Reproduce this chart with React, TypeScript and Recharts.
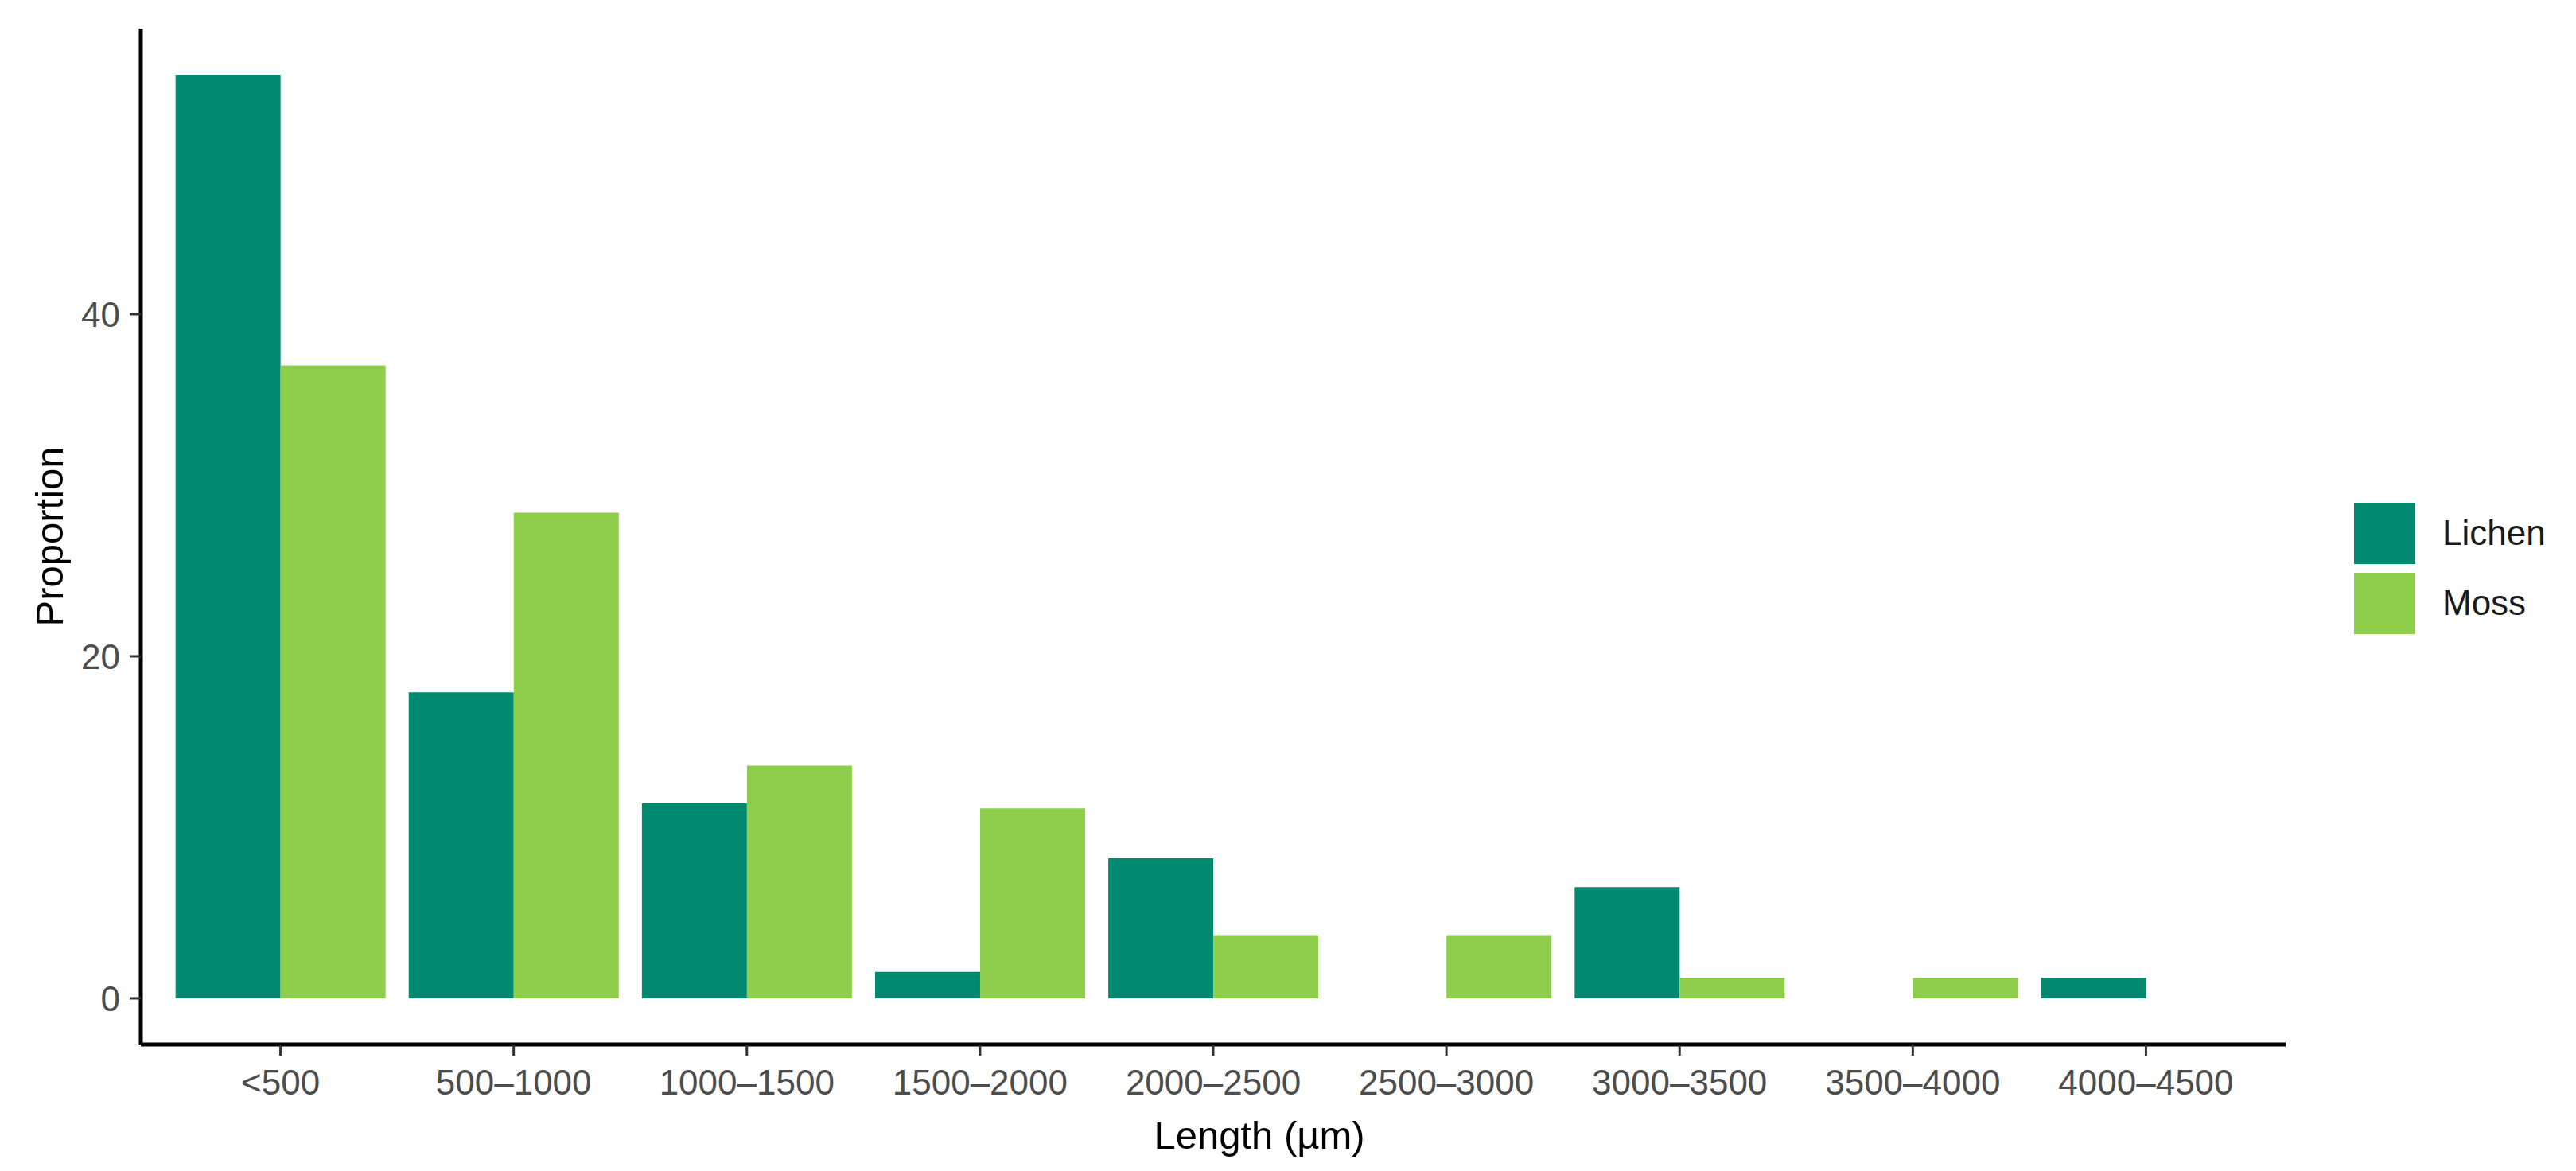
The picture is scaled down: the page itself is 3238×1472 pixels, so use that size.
import React from 'react';
import { BarChart, Bar, XAxis, YAxis, Legend } from 'recharts';

const categories = ['<500', '500\u20131000', '1000\u20131500', '1500\u20132000', '2000\u20132500', '2500\u20133000', '3000\u20133500', '3500\u20134000', '4000\u20134500'];
const lichen = [54.0, 17.9, 11.4, 1.55, 8.2, 0, 6.5, 0, 1.2];
const moss = [37.0, 28.4, 13.6, 11.1, 3.7, 3.7, 1.2, 1.2, 0];
const yTicks = [0, 20, 40];
const seriesNames = ['Lichen', 'Moss'];
const seriesColors = ['#018A6F', '#8FCE4B'];

const data = categories.map((c, i) => ({ cat: c, Lichen: lichen[i], Moss: moss[i] }));

const FONT = '"Liberation Sans", Arial, Helvetica, sans-serif';

const LegendContent = (props: any) => {
  const payload = props.payload || [];
  return (
    <div style={{ fontFamily: FONT }}>
      {payload.map((p: any, i: number) => (
        <div key={i} style={{ display: 'flex', alignItems: 'center', height: 88 }}>
          <div style={{ width: 77, height: 77, background: p.color, marginRight: 34 }} />
          <span style={{ fontSize: 44, color: '#1a1a1a' }}>{p.value}</span>
        </div>
      ))}
    </div>
  );
};

export default function App() {
  return (
    <div style={{ position: 'absolute', left: 0, top: 0, width: 3238, height: 1472, background: '#fff' }}>
      <BarChart
        width={3238}
        height={1472}
        data={data}
        margin={{ top: 36, right: 365, bottom: 0, left: 0 }}
        barCategoryGap="5%"
        barGap={0}
      >
        <XAxis
          dataKey="cat"
          padding={{ left: 29, right: 29 }}
          height={159}
          axisLine={{ stroke: '#000', strokeWidth: 5 }}
          tickLine={{ stroke: '#333', strokeWidth: 3 }}
          tickSize={14}
          tick={{ fill: '#4D4D4D', fontSize: 44, fontFamily: FONT }}
          tickMargin={18}
          interval={0}
          label={{ value: 'Length (\u00b5m)', position: 'insideBottom', offset: 28, dx: 58, style: { fill: '#000', fontSize: 49, fontFamily: FONT } }}
        />
        <YAxis
          domain={[-2.7, 56.7]}
          ticks={yTicks}
          width={177}
          allowDataOverflow
          axisLine={{ stroke: '#000', strokeWidth: 5 }}
          tickLine={{ stroke: '#333', strokeWidth: 3 }}
          tickSize={14}
          tickMargin={12}
          tick={{ fill: '#4D4D4D', fontSize: 44, fontFamily: FONT }}
          label={{ value: 'Proportion', angle: -90, position: 'insideLeft', offset: 62, style: { textAnchor: 'middle', fill: '#000', fontSize: 49, fontFamily: FONT } }}
        />
        <Legend
          layout="vertical"
          align="center"
          verticalAlign="middle"
          content={<LegendContent />}
          wrapperStyle={{ left: 2959, top: 626, width: 280, height: 180 }}
        />
        {seriesNames.map((n, i) => (
          <Bar key={n} dataKey={n} fill={seriesColors[i]} isAnimationActive={false} />
        ))}
      </BarChart>
    </div>
  );
}
